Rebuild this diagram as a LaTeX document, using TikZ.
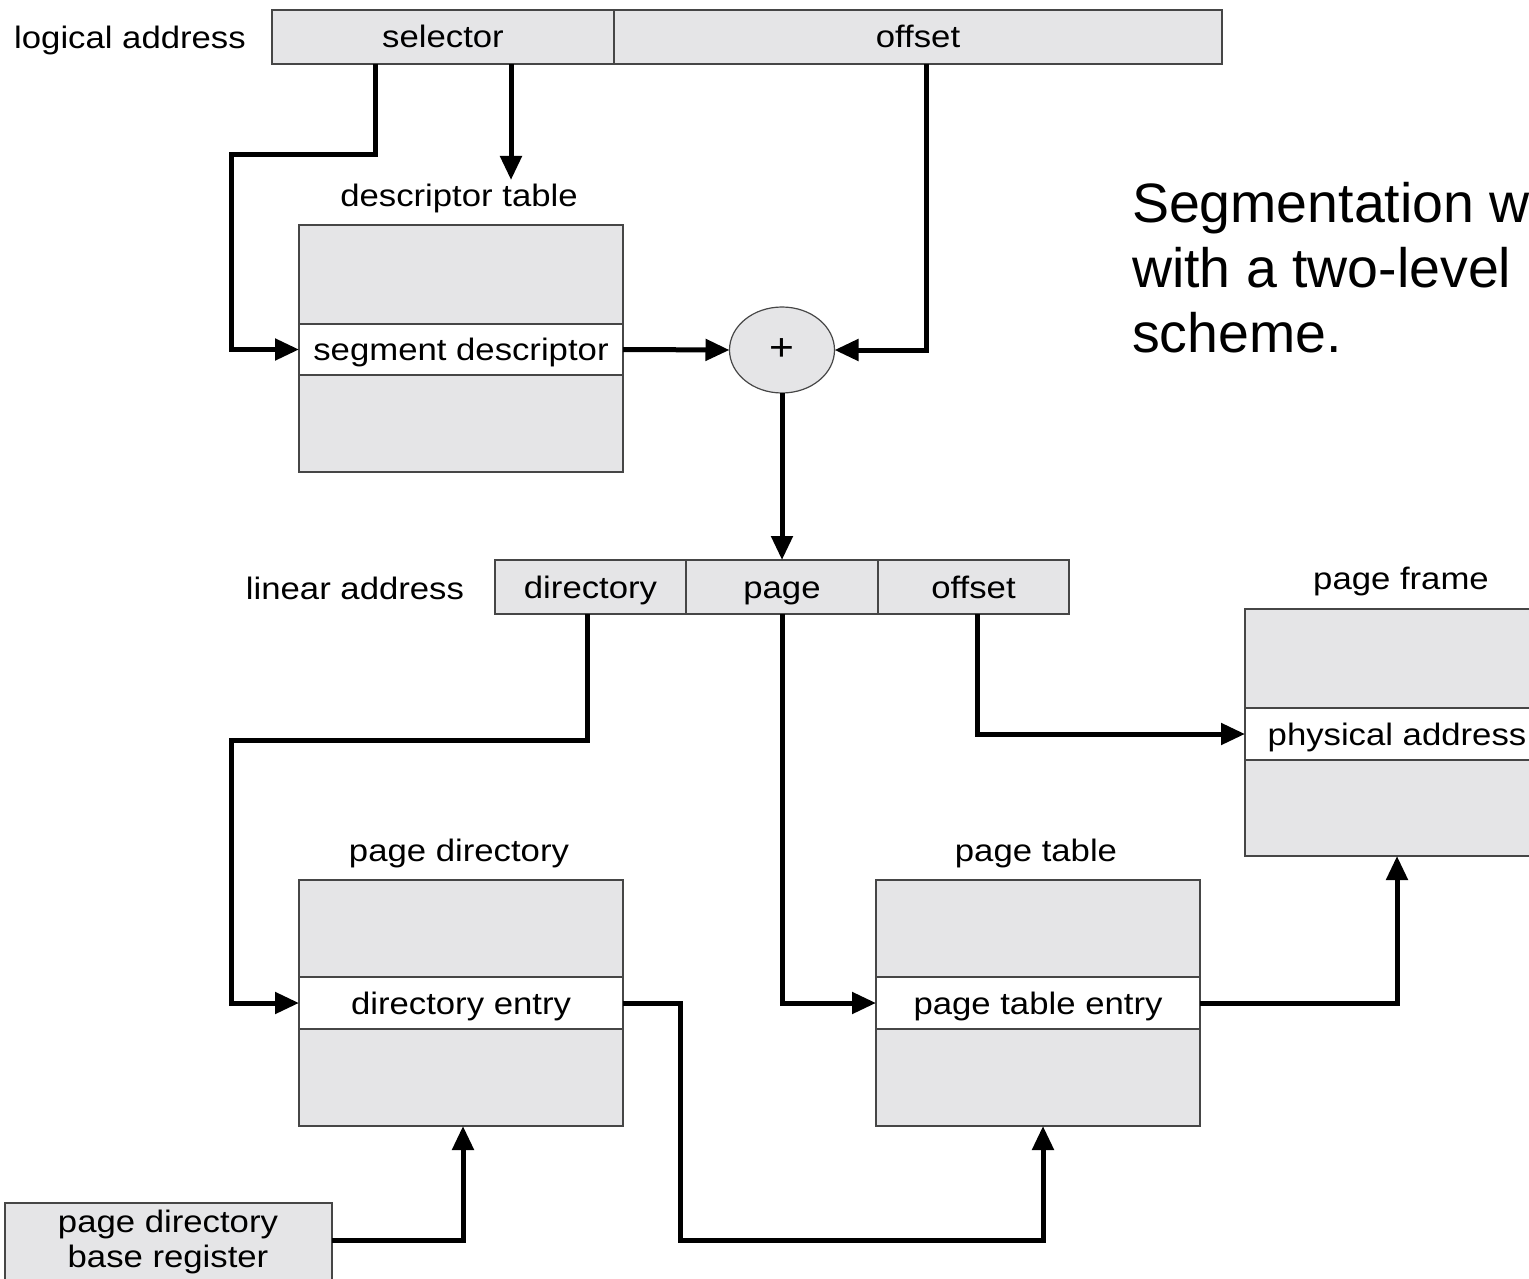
\documentclass[tikz,border=0pt]{standalone}
\usepackage{fontspec}
\setmainfont{Liberation Sans}
\newfontfamily\diagfont[FakeStretch=1.12]{Liberation Sans}
\usetikzlibrary{arrows.meta,shapes.geometric,calc}
\definecolor{boxgray}{RGB}{229,229,231}
\definecolor{edgegray}{RGB}{70,70,70}
\begin{document}
\begin{tikzpicture}[x=1pt,y=-1pt,
  every node/.style={font=\diagfont\fontsize{31}{36}\selectfont, inner sep=0pt, outer sep=0pt},
  oneline/.style={text height=27pt, text depth=5pt},
  field/.style={oneline, draw=edgegray, line width=1.4pt, fill=boxgray, minimum height=54pt},
  cell/.style={draw=edgegray, line width=1.4pt, fill=boxgray, minimum width=324pt},
  entry/.style={oneline, draw=edgegray, line width=1.4pt, fill=white, minimum width=324pt, minimum height=52pt},
  caption/.style={oneline, text=black},
  conn/.style={line width=5pt, -{Triangle[length=24pt,width=21pt]}}]
\useasboundingbox (0,0) rectangle (1529,1279);

% logical address
\node[caption] (lalabel) at (130,38) {logical address};
\node[field, minimum width=342pt] (sel) at (443,37) {selector};
\node[field, minimum width=608pt] (off) at (918,37) {offset};

% descriptor table
\node[caption] (dtlabel) at (459,195) {descriptor table};
\node[cell, minimum height=99pt] (dttop) at (461,274.5) {};
\node[entry, minimum height=51pt] (segdesc) at (461,349.5) {segment descriptor};
\node[cell, minimum height=97pt] (dtbot) at (461,423.5) {};
\coordinate (dtin) at (511,180);

% adder
\node[ellipse, draw=edgegray, line width=1.2pt, fill=boxgray, minimum width=105pt, minimum height=86pt,
      font=\diagfont\fontsize{38}{40}\selectfont] (plus) at (782,350) {+};

% linear address
\node[caption] (linlabel) at (355,588) {linear address};
\node[field, minimum width=191pt] (dir) at (590.5,587) {directory};
\node[field, minimum width=192pt] (pg) at (782,587) {page};
\node[field, minimum width=191pt] (loff) at (973.5,587) {offset};

% page frame
\node[caption] (pflabel) at (1401,578) {page frame};
\node[cell, minimum width=304pt, minimum height=99pt] (pftop) at (1397,658.5) {};
\node[entry, minimum width=304pt] (phys) at (1397,734) {physical address};
\node[cell, minimum width=304pt, minimum height=96pt] (pfbot) at (1397,808) {};

% page directory
\node[caption] (pdlabel) at (459,850) {page directory};
\node[cell, minimum height=97pt] (pdtop) at (461,928.5) {};
\node[entry] (direntry) at (461,1003) {directory entry};
\node[cell, minimum height=97pt] (pdbot) at (461,1077.5) {};

% page table
\node[caption] (ptlabel) at (1036,850) {page table};
\node[cell, minimum height=97pt] (pttop) at (1038,928.5) {};
\node[entry] (ptentry) at (1038,1003) {page table entry};
\node[cell, minimum height=97pt] (ptbot) at (1038,1077.5) {};

% base register
\node[draw=edgegray, line width=1.4pt, fill=boxgray, minimum width=327pt, minimum height=100pt] (reg) at (168.5,1253) {};
\node[align=center, font=\diagfont\fontsize{31}{35}\selectfont] (regtext) at (168,1242) {page directory\\base register};

% heading (base anchor sits on the last line)
\node[anchor=base west, align=left, font=\fontsize{55.5}{65}\selectfont] (heading) at (1132,352)
  {Segmentation w\\with a two-level\\scheme.};

% connectors
\draw[conn] (sel.south -| 375,0) |- (231,155) |- (segdesc.west);
\draw[conn] (sel.south -| 511,0) -- (dtin);
\draw[conn] (segdesc.east) -- (plus.west);
\draw[conn] (off.south -| 926,0) |- (plus.east);
\draw[conn] (plus.south) -- (pg.north);
\draw[conn] (dir.south -| 587,0) |- (231,740) |- (direntry.west);
\draw[conn] (pg.south) |- (ptentry.west);
\draw[conn] (loff.south -| 977,0) |- (phys.west);
\draw[conn] (direntry.east) -| (680,1240) -| (ptbot.south -| 1043,0);
\draw[conn] (ptentry.east) -| (pfbot.south);
\draw[conn] (reg.east |- 0,1240) -| (pdbot.south -| 463,0);
\end{tikzpicture}
\end{document}
